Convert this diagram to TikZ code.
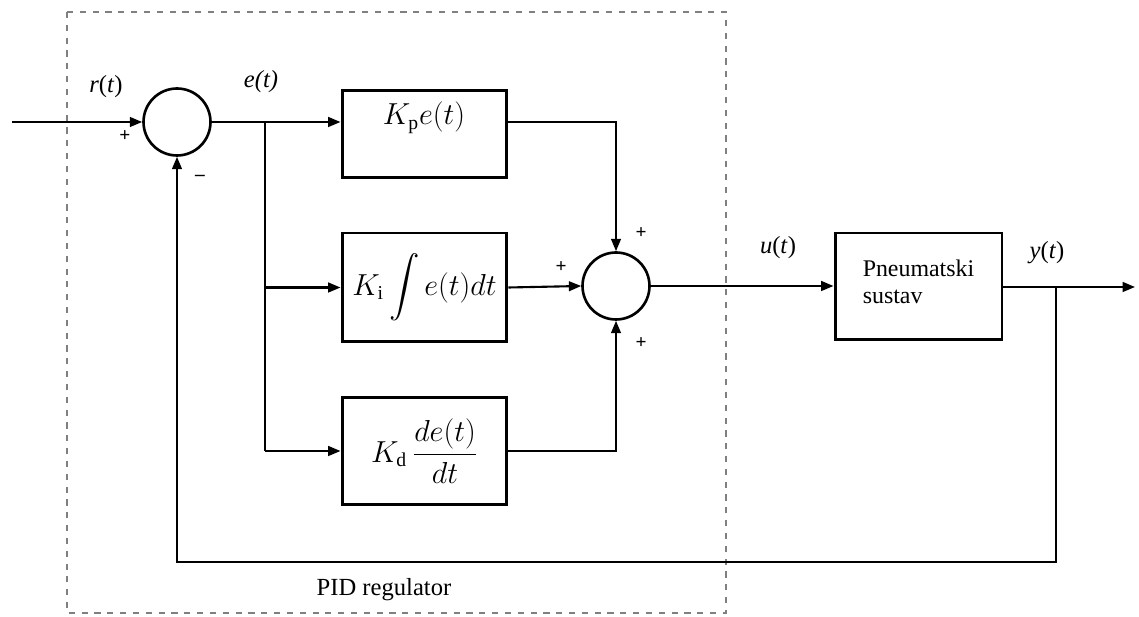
\documentclass[tikz,border=0pt]{standalone}
\usepackage{amsmath}
\usepackage{fontspec}
\setmainfont{Liberation Serif}
\usetikzlibrary{positioning,arrows.meta,calc}

\begin{document}
\begin{tikzpicture}[x=0.02cm, y=-0.02cm,
  blok/.style={rectangle, draw, line width=1.7pt, minimum width=3.3cm, inner sep=0pt, font=\fontsize{16}{19}\selectfont},
  zbroj/.style={circle, draw, line width=1.5pt, minimum size=1.34cm, inner sep=0pt},
  signal/.style={font=\fontsize{14}{16}\selectfont},
  znak/.style={font=\fontsize{11}{12}\selectfont\bfseries, inner sep=0pt},
  veza/.style={line width=1.2pt},
  strel/.style={veza, -{Triangle[length=7pt,width=5.5pt]}}]
  \useasboundingbox (0,0) rectangle (1139,617);

  % PID regulator frame
  \draw[gray, line width=1.2pt, dash pattern=on 3.5pt off 3.8pt] (67,12) rectangle (726,613);
  \node[signal] (pidtxt) at (384,590) {PID regulator};

  % summing points
  \node[zbroj] (sum1) at (177,122) {};
  \node[zbroj] (sum2) at (616,286) {};

  % PID branches
  \node[blok, minimum height=1.74cm] (kp) at (424.5,134) {};
  \node[font=\fontsize{16}{19}\selectfont] (kptxt) at (424,118) {$K_\mathrm{p}e(t)$};
  \node[blok, minimum height=2.18cm] (ki) at (424.5,287.5) {$K_\mathrm{i}\displaystyle\int e(t)dt$};
  \node[blok, minimum height=2.16cm] (kd) at (424.5,451) {$K_\mathrm{d}\,\dfrac{de(t)}{dt}$};

  % plant
  \node[blok, minimum width=3.34cm, minimum height=2.14cm, font=\fontsize{13.6}{15.5}\selectfont, align=left] (plant) at (918.5,286.5) {Pneumatski\\sustav\\[-10pt]\mbox{}};

  \coordinate (ulaz) at (12,122);
  \coordinate (izlaz) at (1135,287);
  \coordinate (grana) at (265,122);
  \coordinate (odvod) at (1056,287);

  % connectors
  \draw[strel] (ulaz) -- (sum1.west);
  \draw[veza] (sum1.east) -- (grana);
  \draw[strel] (grana) -- (kp.west |- grana);
  \draw[veza] (grana) -- (grana |- kd.west);
  \draw[strel] (grana |- ki.west) -- (ki.west);
  \draw[strel] (grana |- kd.west) -- (kd.west);
  \draw[strel] (kp.east |- grana) -| (sum2.north);
  \draw[strel] (ki.east) -- (sum2.west);
  \draw[strel] (kd.east) -| (sum2.south);
  \draw[strel] (sum2.east) -- (plant.west |- sum2.east);
  \draw[strel] (plant.east |- odvod) -- (izlaz);
  \draw[strel] (odvod) -- (1056,562) -| (sum1.south);

  % signal labels
  \node[signal] (rlab) at (106,87) {\textit{r}(\textit{t})};
  \node[signal] (elab) at (261,82) {\textit{e(t)}};
  \node[signal] (ulab) at (778,248) {\textit{u}(\textit{t})};
  \node[signal] (ylab) at (1047,253) {\textit{y}(\textit{t})};

  % signs
  \node[znak] (p1) at (125,136) {+};
  \node[znak] (m1) at (200,178) {--};
  \node[znak] (p2) at (641,233) {+};
  \node[znak] (p3) at (561,267) {+};
  \node[znak] (p4) at (641,343) {+};
\end{tikzpicture}
\end{document}
